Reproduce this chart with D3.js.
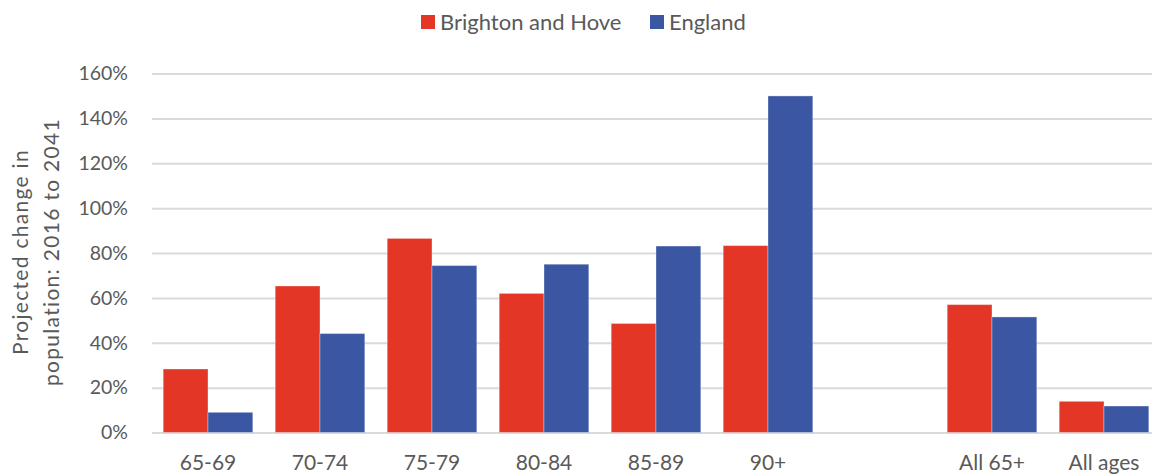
<!DOCTYPE html>
<html>
<head>
<meta charset="utf-8">
<script src="https://cdn.jsdelivr.net/npm/d3@7"></script>
<style>
  html, body { margin: 0; padding: 0; background: #fff; }
  svg { display: block; font-family: Lato, "Open Sans", sans-serif; }
</style>
</head>
<body>
<svg id="chart" width="1152" height="475"></svg>
<script>
// Projected population change 2016 to 2041, by age band
const categories = ["65-69", "70-74", "75-79", "80-84", "85-89", "90+", "", "All 65+", "All ages"];
const brightonValues = [28.3, 65.3, 86.5, 62.0, 48.6, 83.3, null, 57.0, 13.9];
const englandValues  = [9.0, 44.1, 74.4, 75.0, 83.1, 150.0, null, 51.5, 11.8];
const seriesNames = ["Brighton and Hove", "England"];
const seriesColors = ["#e33626", "#3b56a2"];
const yTicks = [0, 20, 40, 60, 80, 100, 120, 140, 160];

const svg = d3.select("#chart");
const W = 1152, H = 475;
const plot = { left: 152, right: 1160, top: 73.5, bottom: 432.5 };
const textColor = "#595959";

const x = d3.scaleBand()
  .domain(categories.map((c, i) => i))
  .range([plot.left, plot.right])
  .paddingInner(0.2)
  .paddingOuter(0.1);

const xInner = d3.scaleBand()
  .domain([0, 1])
  .range([0, x.bandwidth()]);

const y = d3.scaleLinear().domain([0, 160]).range([plot.bottom, plot.top]);

// Gridlines and tick labels
const yAxis = d3.axisLeft(y)
  .tickValues(yTicks)
  .tickSize(-(W - plot.left))
  .tickPadding(24)
  .tickFormat(d => d + "%");

const gy = svg.append("g")
  .attr("transform", `translate(${plot.left},0)`)
  .call(yAxis);
gy.select(".domain").remove();
gy.selectAll(".tick line").attr("stroke", "#d9d9d9").attr("stroke-width", 2);
gy.selectAll(".tick text")
  .attr("fill", textColor)
  .attr("font-size", 19.5)
  .attr("font-family", "Lato, 'Open Sans', sans-serif");

// Bars
const rows = categories.map((c, i) => ({ i, values: [brightonValues[i], englandValues[i]] }));
const groups = svg.append("g").selectAll("g")
  .data(rows)
  .join("g")
  .attr("transform", d => `translate(${x(d.i)},0)`);

groups.selectAll("rect")
  .data(d => d.values.map((v, s) => ({ v, s })).filter(e => e.v !== null))
  .join("rect")
  .attr("x", d => xInner(d.s))
  .attr("width", xInner.bandwidth())
  .attr("y", d => y(d.v))
  .attr("height", d => y(0) - y(d.v))
  .attr("fill", d => seriesColors[d.s])
  .attr("stroke", "rgba(255,255,255,0.35)")
  .attr("stroke-width", 1);

// Category labels
const xAxis = d3.axisBottom(x)
  .tickSize(0)
  .tickPadding(23)
  .tickFormat(i => categories[i]);
const gx = svg.append("g")
  .attr("transform", `translate(0,${plot.bottom})`)
  .call(xAxis);
gx.select(".domain").remove();
gx.selectAll(".tick text")
  .attr("fill", textColor)
  .attr("font-size", 21)
  .attr("font-family", "Lato, 'Open Sans', sans-serif");

// Axis title
const title = svg.append("text")
  .attr("transform", "translate(0,252) rotate(-90)")
  .attr("text-anchor", "middle")
  .attr("fill", textColor)
  .attr("font-size", 21)
  .attr("letter-spacing", 1.3);
title.append("tspan").attr("x", 0).attr("y", 28).text("Projected change in");
title.append("tspan").attr("x", 0).attr("y", 59).text("population: 2016 to 2041");

// Legend
const legendItems = [
  { name: seriesNames[0], color: seriesColors[0], x: 421 },
  { name: seriesNames[1], color: seriesColors[1], x: 650 }
];
const lg = svg.append("g").selectAll("g")
  .data(legendItems)
  .join("g")
  .attr("transform", d => `translate(${d.x},15)`);
lg.append("rect").attr("width", 14).attr("height", 14).attr("fill", d => d.color);
lg.append("text")
  .attr("x", 19)
  .attr("y", 14.5)
  .attr("fill", textColor)
  .attr("font-size", 22)
  .text(d => d.name);
</script>
</body>
</html>
